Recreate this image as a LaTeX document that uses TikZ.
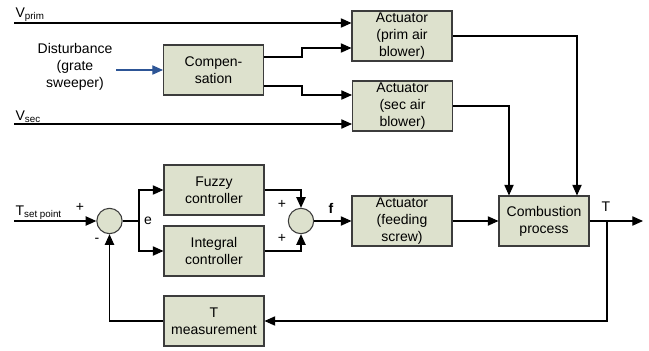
\documentclass[tikz,border=0pt]{standalone}
\usepackage{fontspec}
\setmainfont{Liberation Sans}
\definecolor{blockfill}{RGB}{221,225,205}
\definecolor{blockline}{RGB}{60,60,60}
\definecolor{distblue}{RGB}{45,85,150}
\usetikzlibrary{arrows.meta,positioning}

\begin{document}
\begin{tikzpicture}[x=0.75pt, y=-0.75pt, font=\fontsize{10.5}{12.6}\selectfont,
  block/.style={draw=blockline, fill=blockfill, line width=0.8pt, minimum width=75pt, minimum height=37.5pt, align=center, inner sep=1pt},
  sumnode/.style={circle, draw=blockline, fill=blockfill, line width=0.8pt, minimum size=19pt, inner sep=0pt},
  sig/.style={line width=0.8pt, -{Triangle[length=8pt,width=7pt]}},
  wire/.style={line width=0.8pt}]
\useasboundingbox (0,0) rectangle (649,350);
% Blocks
\node[block] (aprim) at (402,36) {Actuator\\(prim air\\blower)};
\node[block] (comp) at (213.5,70) {Compen-\\sation};
\node[block] (asec) at (402.5,106) {Actuator\\(sec air\\blower)};
\node[block] (fuzzy) at (214,190) {Fuzzy\\controller};
\node[block] (integral) at (214,251) {Integral\\controller};
\node[block] (tmeas) at (214,321) {T\\measurement};
\node[block] (feed) at (402,221) {Actuator\\(feeding\\screw)};
\node[block, minimum width=67.5pt] (comb) at (544,221) {Combustion\\process};
\node[sumnode] (sum1) at (109.5,221) {};
\node[sumnode] (sum2) at (301,221) {};
% Signal points
\coordinate (vp) at (14,23);
\coordinate (vs) at (14,124);
\coordinate (ts) at (14,221);
\coordinate (c1) at (302,57);
\coordinate (j1) at (302,48);
\coordinate (c2) at (302,86);
\coordinate (j2) at (302,95);
\coordinate (br) at (139,221);
\coordinate (tb) at (607,221);
\coordinate (tout) at (643,221);
\coordinate (dist) at (116,70);
% Labels
\node[anchor=south west, inner sep=1pt] (vplab) at (vp) {V\textsubscript{prim}};
\node[anchor=south west, inner sep=1pt] (vslab) at (vs) {V\textsubscript{sec}};
\node[anchor=south west, inner sep=1pt] (tslab) at (ts) {T\textsubscript{set point}};
\node[align=center] (dlab) at (75,67) {Disturbance\\(grate\\sweeper)};
\node (p1) at (80,207) {+};
\node (m1) at (97,240) {-};
\node (elab) at (148,221) {e};
\node (p2) at (282,204) {+};
\node (p3) at (282,238) {+};
\node[font=\fontsize{10.5}{12.6}\selectfont\bfseries] (flab) at (331,208) {f};
\node (tlab) at (606,207) {T};
% Connectors
\draw[sig] (vp) -- (vp -| aprim.west);
\draw[sig] (vs) -- (vs -| asec.west);
\draw[sig, distblue] (dist) -- (comp.west);
\draw[sig] (comp.east |- c1) -- (c1) -- (j1) -- (j1 -| aprim.west);
\draw[sig] (comp.east |- c2) -- (c2) -- (j2) -- (j2 -| asec.west);
\draw[sig] (aprim.east) -| ([xshift=24.75pt]comb.north);
\draw[sig] (asec.east) -| ([xshift=-26.25pt]comb.north);
\draw[sig] (ts) -- (sum1.west);
\draw[wire] (sum1.east) -- (br);
\draw[sig] (br) |- (fuzzy.west);
\draw[sig] (br) |- (integral.west);
\draw[sig] (fuzzy.east) -| (sum2.north);
\draw[sig] (integral.east) -| (sum2.south);
\draw[sig] (sum2.east) -- (feed.west);
\draw[sig] (feed.east) -- (comb.west);
\draw[sig] (comb.east) -- (tout);
\draw[sig] (tb) |- (tmeas.east);
\draw[sig] (tmeas.west) -| (sum1.south);
\end{tikzpicture}
\end{document}
